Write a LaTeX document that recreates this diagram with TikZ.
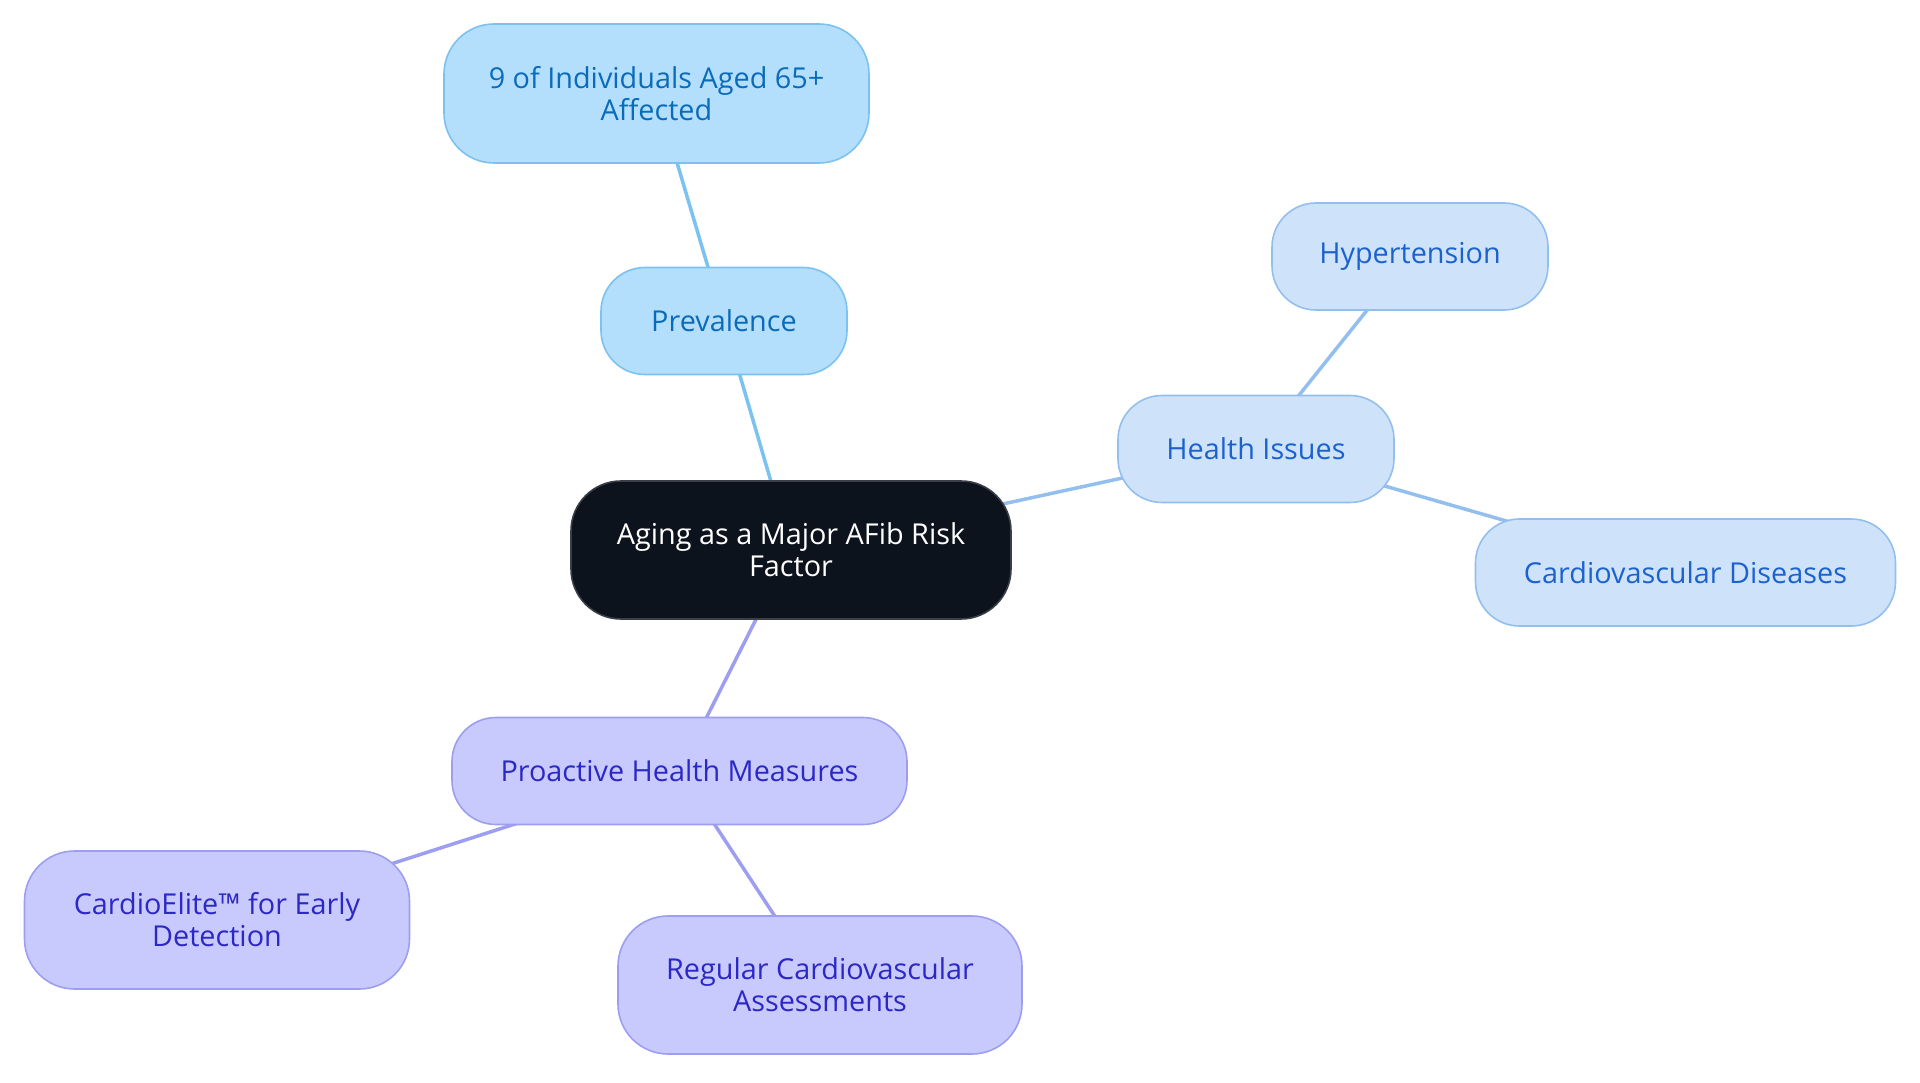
\documentclass[tikz,border=0pt]{standalone}
\usepackage{fontspec}
\setmainfont{Open Sans}
\usetikzlibrary{backgrounds}
\definecolor{rootfill}{HTML}{0D131C}
\definecolor{rootdraw}{HTML}{3A3F47}
\definecolor{afill}{HTML}{B3DFFD}
\definecolor{adraw}{HTML}{7CC2F0}
\definecolor{atext}{HTML}{0A6BBB}
\definecolor{bfill}{HTML}{CEE3FA}
\definecolor{bdraw}{HTML}{93BFEF}
\definecolor{btext}{HTML}{1C62CF}
\definecolor{cfill}{HTML}{C8C9FC}
\definecolor{cdraw}{HTML}{9C9FF1}
\definecolor{ctext}{HTML}{2C28C6}
\tikzset{
  box/.style={rectangle, rounded corners=44pt, line width=1.6pt, align=center,
    inner sep=0pt, font=\fontsize{28.8}{32}\selectfont},
  rootbox/.style={box, fill=rootfill, draw=rootdraw, text=white, rounded corners=50pt},
  abox/.style={box, fill=afill, draw=adraw, text=atext},
  bbox/.style={box, fill=bfill, draw=bdraw, text=btext},
  cbox/.style={box, fill=cfill, draw=cdraw, text=ctext},
  alink/.style={draw=adraw, line width=3.5pt},
  blink/.style={draw=bdraw, line width=3.5pt},
  clink/.style={draw=cdraw, line width=3.5pt},
}
\begin{document}
\begin{tikzpicture}[x=1pt,y=-1pt]
\useasboundingbox (0,0) rectangle (1920,1083);
\node[rootbox, minimum width=440pt, minimum height=138pt] (root) at (791,550) {Aging as a Major AFib Risk\\Factor};
\node[abox, minimum width=246pt, minimum height=107pt] (prev) at (724,321) {Prevalence};
\node[abox, minimum width=425pt, minimum height=139pt, rounded corners=50pt] (nine) at (656.5,93.5) {9 of Individuals Aged 65+\\Affected};
\node[bbox, minimum width=276pt, minimum height=107pt] (health) at (1256,449) {Health Issues};
\node[bbox, minimum width=276pt, minimum height=107pt] (hyper) at (1410,256.5) {Hypertension};
\node[bbox, minimum width=420pt, minimum height=107pt] (cvd) at (1685.5,572.5) {Cardiovascular Diseases};
\node[cbox, minimum width=455pt, minimum height=107pt] (pro) at (679.5,771) {Proactive Health Measures};
\node[cbox, minimum width=385pt, minimum height=138pt, rounded corners=50pt] (elite) at (217,920) {CardioElite™ for Early\\Detection};
\node[cbox, minimum width=404pt, minimum height=138pt, rounded corners=50pt] (reg) at (820,985) {Regular Cardiovascular\\Assessments};
\begin{scope}[on background layer]
\draw[alink] (root.center) -- (prev.center);
\draw[alink] (prev.center) -- (nine.center);
\draw[blink] (root.center) -- (health.center);
\draw[blink] (health.center) -- (hyper.center);
\draw[blink] (health.center) -- (cvd.center);
\draw[clink] (root.center) -- (pro.center);
\draw[clink] (pro.center) -- (elite.center);
\draw[clink] (pro.center) -- (reg.center);
\end{scope}
\end{tikzpicture}
\end{document}
